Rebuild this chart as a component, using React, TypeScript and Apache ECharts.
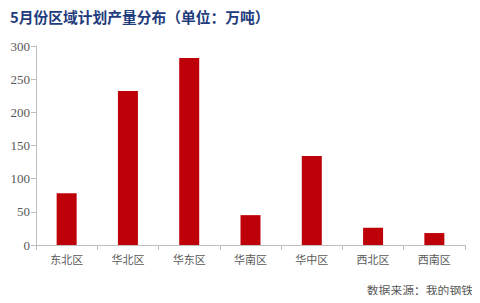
import React, { useEffect, useRef } from "react";
import * as echarts from "echarts";

const regions = ["东北区", "华北区", "华东区", "华南区", "华中区", "西北区", "西南区"];
const output = [78, 232, 282, 45, 134, 26, 18];
const yTicks = { min: 0, max: 300, interval: 50 };
const titleText = "5月份区域计划产量分布（单位：万吨）";
const sourceText = "数据来源：我的钢铁";

export default function App() {
  const ref = useRef<HTMLDivElement>(null);

  useEffect(() => {
    if (!ref.current) return;
    const chart = echarts.init(ref.current, undefined, { renderer: "svg" });
    chart.setOption({
      animation: false,
      backgroundColor: "#ffffff",
      title: {
        text: titleText,
        left: 5,
        top: 4,
        textStyle: {
          color: "#1f3c7c",
          fontSize: 14.75,
          fontWeight: "bold",
          fontFamily: "Noto Sans CJK SC",
        },
      },
      graphic: [
        {
          type: "text",
          right: 7,
          top: 284,
          style: {
            text: sourceText,
            fill: "#595959",
            fontSize: 11.8,
            fontFamily: "Noto Sans CJK SC",
          },
        },
      ],
      grid: { left: 36, right: 15, top: 46, bottom: 58 },
      xAxis: {
        type: "category",
        data: regions,
        axisLine: { lineStyle: { color: "#bfbfbf" } },
        axisTick: { show: true, length: 5, lineStyle: { color: "#bfbfbf" } },
        axisLabel: {
          color: "#595959",
          fontSize: 11,
          margin: 8,
          fontFamily: "Noto Sans CJK SC",
        },
      },
      yAxis: {
        type: "value",
        min: yTicks.min,
        max: yTicks.max,
        interval: yTicks.interval,
        axisLine: { show: true, lineStyle: { color: "#bfbfbf" } },
        axisTick: { show: true, length: 5, lineStyle: { color: "#bfbfbf" } },
        splitLine: { show: false },
        axisLabel: {
          color: "#595959",
          fontSize: 13,
          margin: 6,
          fontFamily: "Liberation Serif",
        },
      },
      series: [
        {
          type: "bar",
          data: output,
          barWidth: 20,
          itemStyle: { color: "#be0008" },
        },
      ],
    });
    return () => chart.dispose();
  }, []);

  return <div ref={ref} style={{ width: 480, height: 303, margin: -8 }} />;
}
